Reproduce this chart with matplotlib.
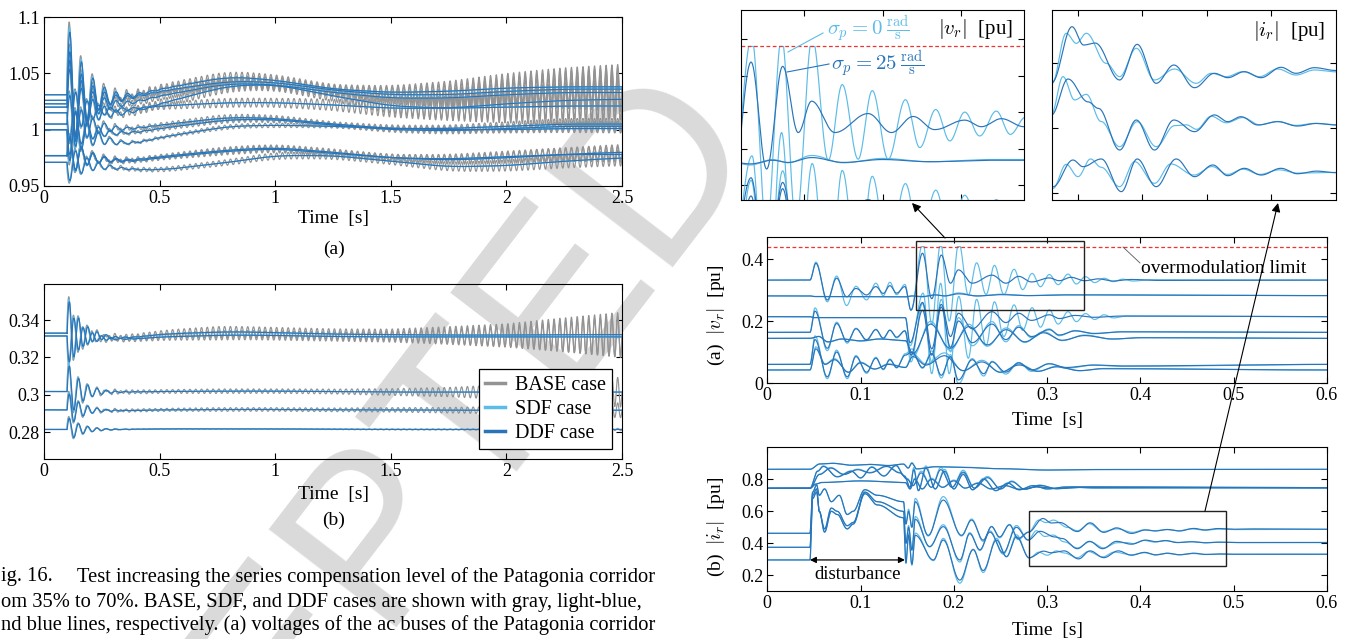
import numpy as np
import matplotlib
matplotlib.use('Agg')
import matplotlib.pyplot as plt
from matplotlib.patches import Rectangle, FancyArrowPatch
from matplotlib.lines import Line2D

plt.rcParams['font.family'] = ['Liberation Serif', 'DejaVu Serif']
plt.rcParams['mathtext.fontset'] = 'cm'
plt.rcParams['axes.linewidth'] = 0.8

C_BASE = '#939393'
C_SDF = '#5cbce8'
C_DDF = '#2a74ba'
C_WM = '#dadada'

# ---------------- left panel (a): ac bus voltages -----------------
LA_KT = [0.1, 0.35, 0.5, 0.8, 1.0, 1.25, 1.5, 1.75, 2.0, 2.25, 2.5]
LA_BUS_MEAN = [
    [1.031, 1.028, 1.036, 1.047, 1.044, 1.036, 1.033, 1.034, 1.037, 1.038, 1.038],
    [1.026, 1.027, 1.034, 1.043, 1.042, 1.035, 1.031, 1.031, 1.034, 1.036, 1.036],
    [1.023, 1.022, 1.030, 1.041, 1.040, 1.033, 1.028, 1.028, 1.031, 1.033, 1.033],
    [1.020, 1.013, 1.023, 1.039, 1.040, 1.030, 1.021, 1.019, 1.023, 1.026, 1.027],
    [1.015, 1.018, 1.021, 1.024, 1.024, 1.022, 1.019, 1.019, 1.020, 1.021, 1.021],
    [1.005, 1.000, 1.004, 1.011, 1.010, 1.005, 1.001, 1.001, 1.003, 1.005, 1.005],
    [1.000, 0.996, 1.001, 1.009, 1.009, 1.004, 1.000, 0.999, 1.001, 1.003, 1.003],
    [1.000, 0.986, 0.993, 1.003, 1.004, 1.003, 1.001, 1.000, 1.000, 1.001, 1.001],
    [0.977, 0.972, 0.976, 0.982, 0.984, 0.980, 0.975, 0.973, 0.975, 0.978, 0.980],
    [0.971, 0.965, 0.964, 0.971, 0.977, 0.977, 0.972, 0.967, 0.968, 0.972, 0.975],
    [0.977, 0.971, 0.975, 0.981, 0.983, 0.979, 0.975, 0.974, 0.976, 0.978, 0.978],
]
LA_RING_AMP = [0.065, 0.05, 0.045, 0.04, -0.028, 0.03, -0.025, -0.03, 0.02, -0.018, 0.018]
LA_SSR_T = [0.3, 0.5, 0.75, 1.0, 1.25, 1.5, 1.75, 2.0, 2.25, 2.5]
LA_SSR_AMP = [
    [0.003, 0.004, 0.005, 0.005, 0.004, 0.006, 0.009, 0.013, 0.017, 0.020],
    [0.003, 0.004, 0.005, 0.005, 0.004, 0.006, 0.009, 0.012, 0.016, 0.019],
    [0.003, 0.0035, 0.0045, 0.0045, 0.004, 0.0055, 0.008, 0.011, 0.014, 0.017],
    [0.003, 0.004, 0.005, 0.005, 0.005, 0.007, 0.010, 0.013, 0.016, 0.018],
    [0.002, 0.003, 0.004, 0.004, 0.005, 0.008, 0.011, 0.014, 0.017, 0.019],
    [0.002, 0.002, 0.003, 0.003, 0.002, 0.003, 0.003, 0.004, 0.005, 0.005],
    [0.0015, 0.002, 0.0025, 0.0025, 0.002, 0.0025, 0.003, 0.0035, 0.004, 0.0045],
    [0.001, 0.0015, 0.002, 0.002, 0.0015, 0.002, 0.0025, 0.003, 0.0035, 0.004],
    [0.002, 0.002, 0.003, 0.003, 0.003, 0.003, 0.004, 0.005, 0.006, 0.007],
    [0.0015, 0.002, 0.0025, 0.003, 0.003, 0.003, 0.004, 0.005, 0.006, 0.007],
    [0.002, 0.002, 0.003, 0.003, 0.003, 0.003, 0.004, 0.005, 0.006, 0.007],
]

# ---------------- left panel (b) -----------------
LB_KT = [0.1, 0.35, 0.5, 0.8, 1.0, 1.25, 1.5, 1.75, 2.0, 2.25, 2.5]
LB_MEAN = [
    [0.333, 0.330, 0.3325, 0.3338, 0.3333, 0.3325, 0.3322, 0.332, 0.332, 0.3322, 0.3322],
    [0.3315, 0.3295, 0.331, 0.332, 0.3318, 0.3312, 0.331, 0.331, 0.331, 0.331, 0.331],
    [0.3018, 0.3015, 0.3018, 0.302, 0.302, 0.3018, 0.3015, 0.3015, 0.3015, 0.3015, 0.3015],
    [0.292, 0.2915, 0.292, 0.2922, 0.2922, 0.292, 0.292, 0.2918, 0.2918, 0.2918, 0.2918],
    [0.2815, 0.2815, 0.2818, 0.2818, 0.2818, 0.2816, 0.2815, 0.2815, 0.2815, 0.2815, 0.2815],
]
LB_RING_AMP = [0.02, -0.016, 0.016, 0.01, 0.007]
LB_SSR_T = [0.3, 0.5, 0.75, 1.0, 1.25, 1.5, 1.75, 2.0, 2.25, 2.5]
LB_SSR_AMP = [
    [0.0015, 0.002, 0.003, 0.0028, 0.0028, 0.003, 0.0045, 0.006, 0.009, 0.012],
    [0.0012, 0.0018, 0.0025, 0.0025, 0.0025, 0.0028, 0.004, 0.0055, 0.008, 0.011],
    [0.001, 0.001, 0.0012, 0.0012, 0.0013, 0.0018, 0.0025, 0.004, 0.006, 0.008],
    [0.0008, 0.0008, 0.001, 0.001, 0.001, 0.0012, 0.0015, 0.002, 0.003, 0.004],
    [0.0002, 0.0002, 0.0002, 0.0002, 0.0002, 0.0003, 0.0003, 0.0004, 0.0005, 0.0006],
]
FAULT_T = 0.1
SSR_FREQ = 40.0
RING_FREQ_A, RING_TAU_A = 20.0, 0.08
RING_FREQ_B, RING_TAU_B = 25.0, 0.06

# ---------------- right panel (a): |v_r| extrema (t, value) -----------------
OVERMOD = 0.44
VA_DDF = [(0, 0.332), (0.0457, 0.332), (0.0521, 0.386), (0.0643, 0.268), (0.0743, 0.338), (0.085, 0.278),
          (0.095, 0.305), (0.1064, 0.284), (0.1164, 0.311), (0.1243, 0.289), (0.1314, 0.314), (0.1386, 0.29),
          (0.1475, 0.311), (0.154, 0.235), (0.1664, 0.4186), (0.1763, 0.272), (0.1865, 0.4127), (0.1964, 0.322),
          (0.2049, 0.365), (0.2197, 0.322), (0.2409, 0.348), (0.2557, 0.322), (0.2695, 0.344), (0.2832, 0.326),
          (0.3023, 0.339), (0.3129, 0.33), (0.3256, 0.341), (0.34, 0.33), (0.355, 0.336), (0.37, 0.329),
          (0.39, 0.334), (0.42, 0.331), (0.6, 0.332)]
VA_SDF = [(0, 0.332), (0.0457, 0.332), (0.0521, 0.39), (0.0643, 0.262), (0.0743, 0.345), (0.085, 0.25),
          (0.095, 0.312), (0.1064, 0.268), (0.1164, 0.322), (0.1243, 0.282), (0.1314, 0.325), (0.1386, 0.285),
          (0.1475, 0.318), (0.154, 0.235), (0.1668, 0.452), (0.1763, 0.19), (0.1858, 0.452), (0.195, 0.2),
          (0.2053, 0.452), (0.2155, 0.284), (0.2244, 0.3877), (0.2345, 0.2855), (0.2435, 0.3795), (0.2536, 0.2855),
          (0.2646, 0.367), (0.2737, 0.3014), (0.2839, 0.3536), (0.2928, 0.3105), (0.3023, 0.35), (0.3118, 0.3173),
          (0.3224, 0.3514), (0.3313, 0.3195), (0.341, 0.343), (0.351, 0.324), (0.361, 0.338), (0.371, 0.327),
          (0.381, 0.335), (0.392, 0.329), (0.41, 0.333), (0.6, 0.332)]
VB_DDF = [(0, 0.281), (0.0457, 0.281), (0.05, 0.279), (0.148, 0.278), (0.155, 0.281), (0.166, 0.279),
          (0.18, 0.284), (0.19, 0.281), (0.205, 0.2877), (0.225, 0.281), (0.25, 0.285), (0.28, 0.282),
          (0.32, 0.284), (0.6, 0.282)]
VC_DDF = [(0, 0.214), (0.0457, 0.214), (0.05, 0.211), (0.148, 0.211), (0.153, 0.13), (0.1664, 0.26),
          (0.1763, 0.11), (0.1865, 0.2536), (0.1964, 0.15), (0.2049, 0.225), (0.2197, 0.175), (0.2409, 0.23),
          (0.2557, 0.195), (0.2695, 0.225), (0.2832, 0.202), (0.3023, 0.22), (0.3129, 0.208), (0.33, 0.218),
          (0.35, 0.212), (0.38, 0.216), (0.6, 0.214)]
VC_SDF = [(0, 0.214), (0.0457, 0.214), (0.05, 0.211), (0.148, 0.211), (0.153, 0.12), (0.167, 0.29),
          (0.1763, 0.03), (0.1858, 0.322), (0.195, 0.03), (0.2053, 0.2795), (0.2155, 0.08), (0.2244, 0.27),
          (0.2345, 0.12), (0.2435, 0.262), (0.2536, 0.15), (0.2646, 0.252), (0.2737, 0.17), (0.2839, 0.243),
          (0.2928, 0.18), (0.3023, 0.236), (0.3118, 0.19), (0.3224, 0.23), (0.3313, 0.198), (0.341, 0.224),
          (0.351, 0.205), (0.361, 0.22), (0.371, 0.21), (0.385, 0.216), (0.6, 0.214)]
VD_DDF = [(0, 0.1634), (0.0457, 0.1634), (0.0511, 0.232), (0.0643, 0.112), (0.0743, 0.192), (0.0857, 0.133),
          (0.095, 0.175), (0.1064, 0.14), (0.1164, 0.172), (0.1243, 0.145), (0.1314, 0.17), (0.1386, 0.148),
          (0.1475, 0.168), (0.154, 0.09), (0.1664, 0.235), (0.1763, 0.09), (0.1865, 0.245), (0.1964, 0.115),
          (0.2049, 0.2), (0.2197, 0.13), (0.2409, 0.19), (0.2557, 0.14), (0.2695, 0.18), (0.2832, 0.15),
          (0.3023, 0.172), (0.3129, 0.155), (0.33, 0.168), (0.35, 0.16), (0.38, 0.165), (0.6, 0.1634)]
VE_DDF = [(0, 0.144), (0.0457, 0.144), (0.055, 0.15), (0.065, 0.133), (0.08, 0.142), (0.1, 0.136),
          (0.12, 0.142), (0.148, 0.137), (0.156, 0.095), (0.175, 0.19), (0.196, 0.112), (0.216, 0.182),
          (0.236, 0.123), (0.256, 0.172), (0.276, 0.133), (0.296, 0.162), (0.316, 0.138), (0.34, 0.153),
          (0.37, 0.142), (0.4, 0.146), (0.6, 0.144)]
VF_DDF = [(0, 0.06), (0.0457, 0.06), (0.0511, 0.14), (0.0643, 0.02), (0.0743, 0.1), (0.0857, 0.02),
          (0.095, 0.085), (0.1064, 0.035), (0.1164, 0.08), (0.1243, 0.045), (0.1314, 0.075), (0.1386, 0.05),
          (0.148, 0.09), (0.155, 0.1), (0.1664, 0.05), (0.1763, 0.095), (0.1865, 0.025), (0.1964, 0.085),
          (0.2049, 0.01), (0.2197, 0.075), (0.232, 0.03), (0.2409, 0.068), (0.2557, 0.035), (0.2695, 0.065),
          (0.2832, 0.042), (0.3023, 0.062), (0.32, 0.05), (0.35, 0.058), (0.38, 0.055), (0.6, 0.06)]
VG_DDF = [(0, 0.042), (0.0457, 0.042), (0.052, 0.11), (0.062, 0.06), (0.072, 0.075), (0.087, 0.035),
          (0.1, 0.065), (0.115, 0.045), (0.13, 0.06), (0.148, 0.05), (0.156, 0.085), (0.17, 0.058),
          (0.19, 0.088), (0.21, 0.04), (0.23, 0.068), (0.25, 0.035), (0.27, 0.058), (0.29, 0.038),
          (0.31, 0.052), (0.335, 0.04), (0.36, 0.046), (0.6, 0.042)]
V_SDF_GAIN = {'B': (1.0, 1.5), 'D': (1.15, 1.3), 'E': (1.1, 1.2), 'F': (1.15, 1.25), 'G': (1.1, 1.2)}

# ---------------- right panel (b): |i_r| extrema (t, value) -----------------
I1_DDF = [(0, 0.8625), (0.0457, 0.8625), (0.0564, 0.896), (0.07, 0.9), (0.09, 0.888), (0.11, 0.893),
          (0.13, 0.886), (0.146, 0.895), (0.151, 0.87), (0.155, 0.9), (0.16, 0.865), (0.18, 0.878),
          (0.21, 0.874), (0.25, 0.866), (0.3, 0.858), (0.35, 0.861), (0.6, 0.8625)]
I2_DDF = [(0, 0.744), (0.0457, 0.744), (0.054, 0.85), (0.06, 0.88), (0.075, 0.815), (0.09, 0.85),
          (0.1, 0.808), (0.112, 0.875), (0.125, 0.82), (0.138, 0.885), (0.147, 0.82), (0.153, 0.75),
          (0.157, 0.86), (0.162, 0.73), (0.17, 0.869), (0.18, 0.74), (0.19, 0.85), (0.2, 0.74),
          (0.21, 0.83), (0.22, 0.735), (0.232, 0.8), (0.245, 0.73), (0.258, 0.775), (0.27, 0.735),
          (0.285, 0.76), (0.3, 0.74), (0.32, 0.752), (0.35, 0.746), (0.6, 0.748)]
I3_DDF = [(0, 0.744), (0.0457, 0.744), (0.056, 0.83), (0.068, 0.87), (0.082, 0.83), (0.097, 0.86),
          (0.11, 0.84), (0.128, 0.88), (0.142, 0.84), (0.15, 0.8), (0.156, 0.76), (0.165, 0.84),
          (0.176, 0.75), (0.186, 0.86), (0.198, 0.75), (0.21, 0.845), (0.222, 0.745), (0.236, 0.81),
          (0.25, 0.74), (0.262, 0.785), (0.276, 0.738), (0.292, 0.762), (0.31, 0.742), (0.33, 0.752),
          (0.6, 0.748)]
I4_DDF = [(0, 0.744), (0.0457, 0.744), (0.052, 0.77), (0.058, 0.78), (0.1, 0.79), (0.148, 0.78),
          (0.153, 0.74), (0.158, 0.8), (0.166, 0.74), (0.176, 0.8), (0.188, 0.75), (0.2, 0.79),
          (0.212, 0.745), (0.226, 0.775), (0.24, 0.74), (0.255, 0.76), (0.27, 0.738), (0.29, 0.752),
          (0.31, 0.742), (0.34, 0.75), (0.6, 0.746)]
I5_PRE = [(0, 0.4625), (0.0457, 0.4625), (0.0486, 0.72), (0.0529, 0.765), (0.0557, 0.7), (0.0614, 0.74),
          (0.0686, 0.66), (0.0771, 0.7), (0.0857, 0.58), (0.092, 0.6), (0.1046, 0.735), (0.118, 0.7),
          (0.146, 0.66), (0.1486, 0.52), (0.1514, 0.6), (0.155, 0.5), (0.1586, 0.66), (0.1725, 0.45),
          (0.1886, 0.67), (0.2082, 0.45), (0.219, 0.545), (0.2314, 0.42), (0.2404, 0.504), (0.249, 0.44),
          (0.2596, 0.515), (0.2689, 0.43), (0.28, 0.47)]
I5_DDF_POST = [(0.2955, 0.555), (0.3045, 0.527), (0.3135, 0.53), (0.3324, 0.4735), (0.346, 0.528),
               (0.3607, 0.4684), (0.3744, 0.4964), (0.3904, 0.4617), (0.4058, 0.4837), (0.4161, 0.477),
               (0.429, 0.4862), (0.4419, 0.477), (0.4574, 0.4929), (0.469, 0.4837), (0.4832, 0.4923),
               (0.5, 0.488), (0.52, 0.49), (0.6, 0.488)]
I5_SDF_POST = [(0.291, 0.545), (0.2988, 0.5296), (0.3066, 0.545), (0.322, 0.499), (0.3324, 0.4786),
               (0.3453, 0.522), (0.3594, 0.4735), (0.3749, 0.4903), (0.3917, 0.4684), (0.4033, 0.4837),
               (0.415, 0.4786), (0.4278, 0.4862), (0.4407, 0.4786), (0.4548, 0.4903), (0.469, 0.4811),
               (0.4832, 0.4888), (0.5, 0.486), (0.6, 0.487)]
I6_PRE = [(0, 0.375), (0.0457, 0.375), (0.0486, 0.7), (0.0529, 0.74), (0.0557, 0.6), (0.0614, 0.49),
          (0.0686, 0.62), (0.075, 0.6), (0.0857, 0.51), (0.092, 0.53), (0.1046, 0.72), (0.118, 0.66),
          (0.146, 0.6), (0.1486, 0.4), (0.1514, 0.5), (0.155, 0.36), (0.1586, 0.55), (0.174, 0.38),
          (0.1886, 0.504), (0.2064, 0.296), (0.217, 0.46), (0.2279, 0.36), (0.2386, 0.47), (0.2529, 0.34),
          (0.267, 0.5), (0.2796, 0.42)]
I6_DDF_POST = [(0.2924, 0.475), (0.3079, 0.44), (0.316, 0.43), (0.3324, 0.3663), (0.3453, 0.4122),
               (0.3594, 0.3663), (0.3744, 0.4122), (0.3904, 0.3944), (0.4058, 0.42), (0.4161, 0.4097),
               (0.4264, 0.4173), (0.4394, 0.4046), (0.4549, 0.4097), (0.47, 0.403), (0.485, 0.407),
               (0.5, 0.4046), (0.6, 0.405)]
I6_SDF_POST = [(0.2885, 0.4786), (0.2975, 0.4429), (0.3066, 0.4515), (0.318, 0.41), (0.3324, 0.3714),
               (0.346, 0.4097), (0.3607, 0.3714), (0.3749, 0.4036), (0.384, 0.4049), (0.392, 0.398),
               (0.4033, 0.418), (0.415, 0.408), (0.4278, 0.416), (0.4407, 0.405), (0.4548, 0.41),
               (0.469, 0.404), (0.4832, 0.407), (0.5, 0.405), (0.6, 0.405)]
I7_PRE = [(0, 0.296), (0.0457, 0.296), (0.0486, 0.68), (0.0529, 0.72), (0.0557, 0.6), (0.0614, 0.47),
          (0.0686, 0.6), (0.075, 0.58), (0.0857, 0.49), (0.092, 0.52), (0.1046, 0.71), (0.118, 0.64),
          (0.146, 0.56), (0.1486, 0.28), (0.1514, 0.45), (0.155, 0.27), (0.1586, 0.45), (0.178, 0.296),
          (0.1886, 0.42), (0.2064, 0.17), (0.2207, 0.36), (0.2314, 0.23), (0.2457, 0.42), (0.2564, 0.317),
          (0.2671, 0.44), (0.2807, 0.31)]
I7_DDF_POST = [(0.2962, 0.351), (0.304, 0.3408), (0.3182, 0.3526), (0.3337, 0.3026), (0.346, 0.3526),
               (0.3607, 0.3102), (0.3762, 0.3526), (0.3904, 0.3255), (0.4046, 0.3434), (0.4161, 0.327),
               (0.429, 0.3383), (0.442, 0.328), (0.4574, 0.3383), (0.47, 0.33), (0.485, 0.334),
               (0.5, 0.3316), (0.6, 0.3316)]
I7_SDF_POST = [(0.291, 0.3444), (0.3001, 0.3255), (0.3099, 0.3526), (0.318, 0.34), (0.3324, 0.3102),
               (0.344, 0.3485), (0.3594, 0.3153), (0.372, 0.345), (0.39, 0.328), (0.404, 0.341),
               (0.416, 0.329), (0.428, 0.337), (0.441, 0.329), (0.456, 0.336), (0.47, 0.331),
               (0.5, 0.332), (0.6, 0.3316)]
I_SDF_GAIN = 1.12

DIST_T0, DIST_T1 = 0.0457, 0.148
ZOOM_A = (0.159, 0.339, 0.2355, 0.459)
ZOOM_B = (0.2807, 0.4914, 0.26, 0.604)

# ------------------------------------------------------------------
W, H = 1353, 639
fig = plt.figure(figsize=(W / 100, H / 100), dpi=100)


def fx(x):
    return x / W


def fy(y):
    return 1 - y / H


def add_ax(x0, y0, x1, y1):
    ax = fig.add_axes([fx(x0), fy(y1), (x1 - x0) / W, (y1 - y0) / H])
    ax.patch.set_facecolor('none')
    ax.tick_params(direction='in', top=True, right=True, length=4, width=0.8, labelsize=13, pad=3)
    return ax


def cosknots(t, knots):
    k = np.asarray(knots, float)
    kt, kv = k[:, 0], k[:, 1]
    i = np.clip(np.searchsorted(kt, t, side='right') - 1, 0, len(kt) - 2)
    s = np.clip((t - kt[i]) / (kt[i + 1] - kt[i]), 0, 1)
    w = 0.5 - 0.5 * np.cos(np.pi * s)
    return kv[i] + (kv[i + 1] - kv[i]) * w


def slow_curve(t, kt, kv, win=0.18):
    y = np.interp(t, kt, kv)
    n = max(3, int(win / (t[1] - t[0])))
    ypad = np.pad(y, n, mode='edge')
    ys = np.convolve(ypad, np.ones(n) / n, mode='same')[n:-n]
    ys[t < kt[0]] = kv[0]
    return ys


def ring(t, amp, freq, tau, ph=0.0):
    dt = np.clip(t - FAULT_T, 0, None)
    return np.where(t >= FAULT_T, amp * np.exp(-dt / tau) * np.sin(2 * np.pi * freq * dt + ph), 0.0)


def left_panel(ax, kt, means, rings, ssr_t, ssr_amp, rf, rtau):
    t = np.linspace(0, 2.5, 7001)
    curves = {'BASE': [], 'SDF': [], 'DDF': []}
    for m_k, ra, sa in zip(means, rings, ssr_amp):
        m = slow_curve(t, kt, m_k)
        env = np.interp(t, [FAULT_T] + list(ssr_t), [0.0] + list(sa))
        env[t < FAULT_T] = 0
        curves['BASE'].append(m + ring(t, 1.12 * ra, rf, rtau, 0.35) + env * np.sin(2 * np.pi * SSR_FREQ * t))
        curves['SDF'].append(m + ring(t, 1.06 * ra, rf, rtau, 0.18))
        curves['DDF'].append(m + ring(t, ra, rf, rtau))
    for key, col in (('BASE', C_BASE), ('SDF', C_SDF), ('DDF', C_DDF)):
        for y in curves[key]:
            ax.plot(t, y, color=col, lw=0.85)
    ax.set_xlim(0, 2.5)
    ax.set_xticks([0, 0.5, 1, 1.5, 2, 2.5])
    ax.set_xticklabels(['0', '0.5', '1', '1.5', '2', '2.5'])


# watermark (behind everything)
fig.text(fx(765), fy(148), 'ACCEPTED', fontsize=168, color=C_WM, rotation=52.5,
         rotation_mode='anchor', ha='right', va='baseline', family='Liberation Sans', zorder=-5)

# ---- left (a)
axA = add_ax(44, 17, 622, 186)
left_panel(axA, LA_KT, LA_BUS_MEAN, LA_RING_AMP, LA_SSR_T, LA_SSR_AMP, RING_FREQ_A, RING_TAU_A)
axA.set_ylim(0.95, 1.1)
axA.set_yticks([0.95, 1.0, 1.05, 1.1])
axA.set_yticklabels(['0.95', '1', '1.05', '1.1'])
fig.text(fx(334), fy(218), 'Time  [s]', ha='center', va='center', fontsize=14)
fig.text(fx(334), fy(249), '(a)', ha='center', va='center', fontsize=14)

# ---- left (b)
axB = add_ax(44, 284, 622, 459)
left_panel(axB, LB_KT, LB_MEAN, LB_RING_AMP, LB_SSR_T, LB_SSR_AMP, RING_FREQ_B, RING_TAU_B)
axB.set_ylim(0.2657, 0.3593)
axB.set_yticks([0.28, 0.30, 0.32, 0.34])
axB.set_yticklabels(['0.28', '0.3', '0.32', '0.34'])
handles = [Line2D([], [], color=C_BASE, lw=2.5), Line2D([], [], color=C_SDF, lw=2.5),
           Line2D([], [], color=C_DDF, lw=2.5)]
leg = axB.legend(handles, ['BASE case', 'SDF case', 'DDF case'], loc='lower right', fontsize=14.5,
                 fancybox=False, framealpha=1, edgecolor='black', handlelength=1.0, handletextpad=0.5,
                 borderpad=0.3, labelspacing=0.25, borderaxespad=0.5)
leg.get_frame().set_linewidth(0.9)
leg.set_zorder(20)
fig.text(fx(334), fy(495), 'Time  [s]', ha='center', va='center', fontsize=14)
fig.text(fx(334), fy(520), '(b)', ha='center', va='center', fontsize=14)

# caption
CAP_FS = 14.8
fig.text(fx(1), fy(577), 'ig. 16.', ha='left', va='center', fontsize=CAP_FS)
fig.text(fx(655), fy(577), 'Test increasing the series compensation level of the Patagonia corridor',
         ha='right', va='center', fontsize=CAP_FS)
fig.text(fx(1), fy(602), 'om 35% to 70%. BASE, SDF, and DDF cases are shown with gray, light-blue,',
         ha='left', va='center', fontsize=CAP_FS)
fig.text(fx(1), fy(625), 'nd blue lines, respectively. (a) voltages of the ac buses of the Patagonia corridor',
         ha='left', va='center', fontsize=CAP_FS)

# ---- right panels data
tr = np.linspace(0, 0.6, 6001)


def sdf_from(knots, gains):
    k = np.array(knots, float)
    lvl0 = k[0, 1]
    lvl1 = k[-1, 1]
    out = k.copy()
    for j in range(len(k)):
        tj = k[j, 0]
        if DIST_T0 < tj <= DIST_T1:
            out[j, 1] = lvl0 + gains[0] * (k[j, 1] - lvl0)
        elif tj > DIST_T1:
            out[j, 1] = lvl1 + gains[1] * (k[j, 1] - lvl1)
    return out


v_pairs = [
    (VA_DDF, VA_SDF),
    (VB_DDF, sdf_from(VB_DDF, V_SDF_GAIN['B'])),
    (VC_DDF, VC_SDF),
    (VD_DDF, sdf_from(VD_DDF, V_SDF_GAIN['D'])),
    (VE_DDF, sdf_from(VE_DDF, V_SDF_GAIN['E'])),
    (VF_DDF, sdf_from(VF_DDF, V_SDF_GAIN['F'])),
    (VG_DDF, sdf_from(VG_DDF, V_SDF_GAIN['G'])),
]
v_curves = [(np.minimum(cosknots(tr, d), OVERMOD), np.clip(np.minimum(cosknots(tr, s), OVERMOD), 0.0, None))
            for d, s in v_pairs]

i_pairs = [
    (I1_DDF, sdf_from(I1_DDF, (1.0, I_SDF_GAIN))),
    (I2_DDF, sdf_from(I2_DDF, (1.03, I_SDF_GAIN))),
    (I3_DDF, sdf_from(I3_DDF, (1.03, I_SDF_GAIN))),
    (I4_DDF, sdf_from(I4_DDF, (1.0, I_SDF_GAIN))),
    (I5_PRE + I5_DDF_POST, list(sdf_from(I5_PRE + [I5_DDF_POST[-1]], (1.0, I_SDF_GAIN))[:-1]) + I5_SDF_POST),
    (I6_PRE + I6_DDF_POST, list(sdf_from(I6_PRE + [I6_DDF_POST[-1]], (1.0, I_SDF_GAIN))[:-1]) + I6_SDF_POST),
    (I7_PRE + I7_DDF_POST, list(sdf_from(I7_PRE + [I7_DDF_POST[-1]], (1.0, I_SDF_GAIN))[:-1]) + I7_SDF_POST),
]
i_curves = [(cosknots(tr, d), cosknots(tr, s)) for d, s in i_pairs]


def draw_right(ax, curves):
    for d, s in curves:
        ax.plot(tr, s, color=C_SDF, lw=0.85)
    for d, s in curves:
        ax.plot(tr, d, color=C_DDF, lw=0.85)


# ---- right (a)
axRA = add_ax(767.3, 236.7, 1327, 383)
draw_right(axRA, v_curves)
axRA.axhline(OVERMOD, color='#ee3333', lw=0.9, ls=(0, (3, 2)))
axRA.set_xlim(0, 0.6)
axRA.set_ylim(0, 0.472)
axRA.set_xticks([0, 0.1, 0.2, 0.3, 0.4, 0.5, 0.6])
axRA.set_xticklabels(['0', '0.1', '0.2', '0.3', '0.4', '0.5', '0.6'])
axRA.set_yticks([0, 0.2, 0.4])
axRA.set_yticklabels(['0', '0.2', '0.4'])
axRA.add_patch(Rectangle((ZOOM_A[0], ZOOM_A[2]), ZOOM_A[1] - ZOOM_A[0], ZOOM_A[3] - ZOOM_A[2],
                         fill=False, ec='#222222', lw=1.0, zorder=5))
axRA.text(0.489, 0.371, 'overmodulation limit', fontsize=14, ha='center', va='center', zorder=6)
fig.text(fx(1047), fy(420), 'Time  [s]', ha='center', va='center', fontsize=14)
fig.text(fx(716), fy(315), r'(a)  $|v_r|$  [pu]', rotation=90, ha='center', va='center', fontsize=14)

# ---- right (b)
axRB = add_ax(767.3, 447.3, 1327, 591.3)
draw_right(axRB, i_curves)
axRB.set_xlim(0, 0.6)
axRB.set_ylim(0.1, 1.0)
axRB.set_xticks([0, 0.1, 0.2, 0.3, 0.4, 0.5, 0.6])
axRB.set_xticklabels(['0', '0.1', '0.2', '0.3', '0.4', '0.5', '0.6'])
axRB.set_yticks([0.2, 0.4, 0.6, 0.8])
axRB.set_yticklabels(['0.2', '0.4', '0.6', '0.8'])
axRB.add_patch(Rectangle((ZOOM_B[0], ZOOM_B[2]), ZOOM_B[1] - ZOOM_B[0], ZOOM_B[3] - ZOOM_B[2],
                         fill=False, ec='#222222', lw=1.0, zorder=5))
axRB.annotate('', xy=(DIST_T0, 0.296), xytext=(0.1475, 0.296),
              arrowprops=dict(arrowstyle='<|-|>', color='black', lw=0.9, mutation_scale=9,
                              shrinkA=0, shrinkB=0))
axRB.text(0.0964, 0.205, 'disturbance', fontsize=13.5, ha='center', va='center')
fig.text(fx(1047), fy(630), 'Time  [s]', ha='center', va='center', fontsize=14)
fig.text(fx(716), fy(527), r'(b)  $|i_r|$  [pu]', rotation=90, ha='center', va='center', fontsize=14)

# ---- inset 1 (|v_r| zoom)
axI1 = add_ax(741, 10, 1024, 200)
draw_right(axI1, v_curves)
axI1.axhline(OVERMOD, color='#ee3333', lw=0.9, ls=(0, (3, 2)))
axI1.set_xlim(0.16, 0.34)
axI1.set_ylim(0.2295, 0.49)
axI1.set_xticks([0.2, 0.25, 0.3])
axI1.set_yticks([0.25, 0.3, 0.35, 0.4, 0.45])
axI1.tick_params(labelbottom=False, labelleft=False)
fig.text(fx(976), fy(29), r'$|v_r|$  [pu]', ha='center', va='center', fontsize=15)
fig.text(fx(868), fy(29), r'$\sigma_p = 0\;\frac{\mathrm{rad}}{\mathrm{s}}$', ha='center', va='center',
         fontsize=15, color=C_SDF)
fig.text(fx(878), fy(64), r'$\sigma_p = 25\;\frac{\mathrm{rad}}{\mathrm{s}}$', ha='center', va='center',
         fontsize=15, color=C_DDF)

# ---- inset 2 (|i_r| zoom)
axI2 = add_ax(1052, 10, 1336, 200)
draw_right(axI2, i_curves)
axI2.set_xlim(0.28, 0.5)
axI2.set_ylim(0.2898, 0.5806)
axI2.set_xticks([0.3, 0.35, 0.4, 0.45])
axI2.set_yticks([0.3, 0.4, 0.5])
axI2.tick_params(labelbottom=False, labelleft=False)
fig.text(fx(1289), fy(31), r'$|i_r|$  [pu]', ha='center', va='center', fontsize=15)


def fig_line(p0, p1, color='black', lw=0.8, arrow=False):
    if arrow:
        a = FancyArrowPatch((fx(p0[0]), fy(p0[1])), (fx(p1[0]), fy(p1[1])), transform=fig.transFigure,
                            arrowstyle='-|>', mutation_scale=13, color=color, lw=lw, shrinkA=0, shrinkB=0,
                            zorder=10)
        fig.add_artist(a)
    else:
        fig.add_artist(Line2D([fx(p0[0]), fx(p1[0])], [fy(p0[1]), fy(p1[1])], transform=fig.transFigure,
                              color=color, lw=lw, zorder=10))


fig_line((945, 238), (912, 203), arrow=True)
fig_line((1205, 511), (1278, 203), arrow=True)
fig_line((1123, 247), (1140, 263), color='#555555', lw=0.6)
fig_line((788, 52), (823, 33), color=C_SDF, lw=0.8)
fig_line((787, 72), (829, 64), color=C_DDF, lw=0.8)

fig.savefig('out.png', dpi=100)
